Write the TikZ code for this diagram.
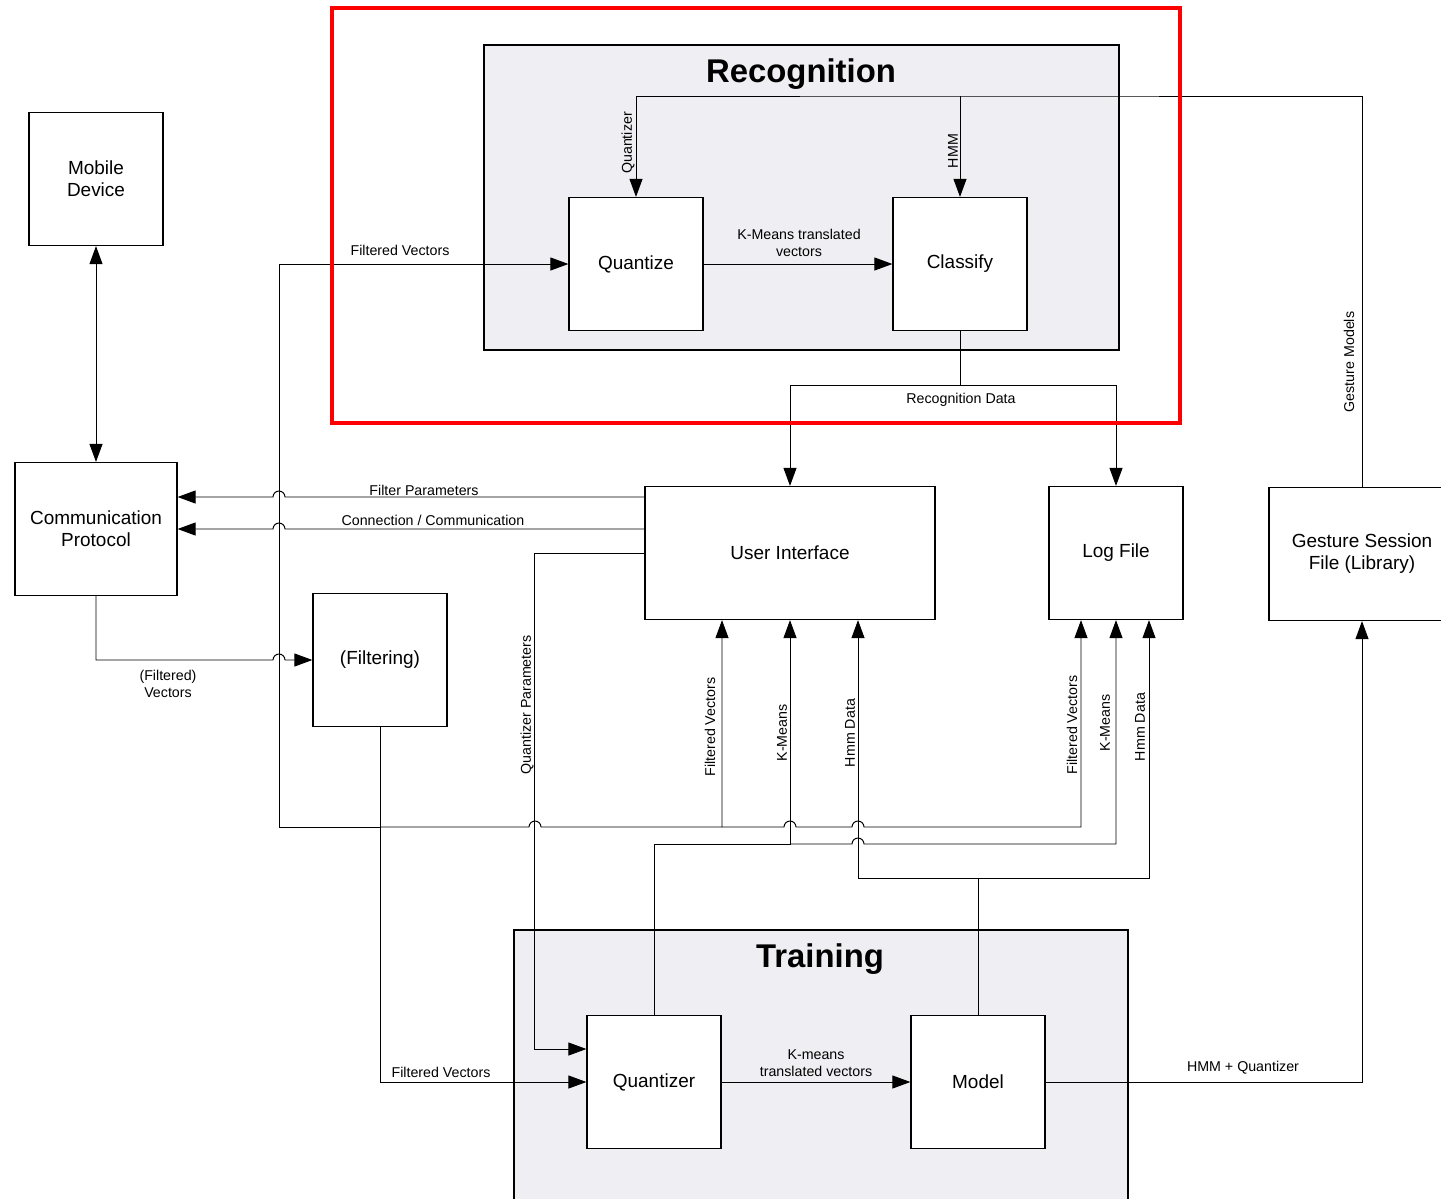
\documentclass[tikz,border=0pt]{standalone}
\usepackage{fontspec}
\setmainfont{Liberation Sans}
\usetikzlibrary{arrows.meta,calc}
\definecolor{groupfill}{RGB}{239,238,243}
\tikzset{
    block/.style={draw,fill=white,line width=0.7pt,minimum width=2.68cm,minimum height=2.66cm,align=center,font=\fontsize{10.8}{12.5}\selectfont},
    lbl/.style={font=\fontsize{8.1}{9.7}\selectfont,align=center,inner sep=0pt},
    vlbl/.style={lbl,rotate=90},
    grp/.style={draw,line width=1.1pt,fill=groupfill},
    grptitle/.style={font=\bfseries\fontsize{18.7}{22}\selectfont,inner sep=0pt},
}
\begin{document}
\begin{tikzpicture}[x=0.02cm,y=-0.02cm,line width=0.55pt,>={Triangle[length=3.6mm,width=2.6mm]}]
    \useasboundingbox(0,0)rectangle(1441,1198);
    \draw[grp](484,45)rectangle(1119,350);
    \draw[grp](514,930)rectangle(1128,1240);
    \node[grptitle](rectitle)at(801,74){Recognition};
    \node[grptitle](traintitle)at(820,959){Training};
    \node[block](mobile)at(96,179){Mobile\\Device};
    \node[block,minimum width=3.24cm](comm)at(96,529){Communication\\Protocol};
    \node[block](filter)at(380,660){(Filtering)};
    \node[block,minimum width=5.8cm](ui)at(790,553){User Interface};
    \node[block](log)at(1116,553){Log File};
    \node[block,minimum width=3.72cm](gsf)at(1362,554){Gesture Session\\File (Library)};
    \node[block](quantize)at(636,264){Quantize};
    \node[block](classify)at(960,264){Classify};
    \node[block](quantizer)at(654,1082){Quantizer};
    \node[block](model)at(978,1082){Model};
    \coordinate(fvjoin)at(380,827);
    \coordinate(fvtap)at(722,827);
    \coordinate(kmtap)at(790,844);
    \coordinate(hmmjoin)at(978,878);
    \coordinate(rdjoin)at(960,385);
    \coordinate(gmtap)at(960,96);
    \draw[<->](mobile)--(comm);
    \draw[->](comm.south)|-(273,660)arc[start angle=180,end angle=0,radius=1.2mm]--(filter.west);
    \draw[->]($(ui.west)+(0,-56)$)--(285,497)arc[start angle=0,end angle=180,radius=1.2mm]--($(comm.east)+(0,-32)$);
    \draw[->]($(ui.west)+(0,-24)$)--(285,529)arc[start angle=0,end angle=180,radius=1.2mm]--(comm.east);
    \draw(filter.south)--(fvjoin);
    \draw[->](fvjoin)-|(279,264)--(quantize.west);
    \draw[->](fvjoin)|-(quantizer.west);
    \draw[->](fvjoin)--(529,827)arc[start angle=180,end angle=0,radius=1.2mm]-|($(ui.south)+(-68,0)$);
    \draw[->](fvtap)--(784,827)arc[start angle=180,end angle=0,radius=1.2mm]--(852,827)arc[start angle=180,end angle=0,radius=1.2mm]-|($(log.south)+(-35,0)$);
    \draw[->](ui.west)-|($(quantizer.west)+(-52,-33)$)--($(quantizer.west)+(0,-33)$);
    \draw[->](quantizer.north)|-(kmtap)--(ui.south);
    \draw[->](kmtap)--(852,844)arc[start angle=180,end angle=0,radius=1.2mm]-|(log.south);
    \draw[->](model.north)--(hmmjoin)-|($(ui.south)+(68,0)$);
    \draw[->](hmmjoin)-|($(log.south)+(33,0)$);
    \draw[->](classify.south)--(rdjoin)-|(ui.north);
    \draw[->](rdjoin)-|(log.north);
    \draw[->](quantize)--(classify);
    \draw[->](quantizer)--(model);
    \draw[->](gsf.north)|-(gmtap)-|(quantize.north);
    \draw[->](gmtap)--(classify.north);
    \draw[->](model.east)-|(gsf.south);
    \node[lbl](lfvtop)at(400,250){Filtered Vectors};
    \node[lbl](lkmtop)at(799,243){K-Means translated\\vectors};
    \node[vlbl](lqz)at(628,143){Quantizer};
    \node[vlbl](lhmm)at(953,151){HMM};
    \node[lbl](lrd)at(961,400){Recognition Data};
    \node[lbl](lfp)at(424,490){Filter Parameters};
    \node[lbl](lcc)at(433,520){Connection / Communication};
    \node[lbl](lfvec)at(168,684){(Filtered)\\Vectors};
    \node[vlbl](lqp)at(527,705){Quantizer Parameters};
    \node[vlbl](lfvui)at(710,727){Filtered Vectors};
    \node[vlbl](lkmui)at(782,733){K-Means};
    \node[vlbl](lhdui)at(850,733){Hmm Data};
    \node[vlbl](lfvlog)at(1072,725){Filtered Vectors};
    \node[vlbl](lkmlog)at(1105,723){K-Means};
    \node[vlbl](lhdlog)at(1140,727){Hmm Data};
    \node[vlbl](lgm)at(1349,362){Gesture Models};
    \node[lbl](lfvbot)at(441,1072){Filtered Vectors};
    \node[lbl](lkmbot)at(816,1063){K-means\\translated vectors};
    \node[lbl](lhq)at(1243,1068){HMM + Quantizer};
    \draw[red,line width=2.8pt](332,8)rectangle(1180,423);
\end{tikzpicture}
\end{document}
